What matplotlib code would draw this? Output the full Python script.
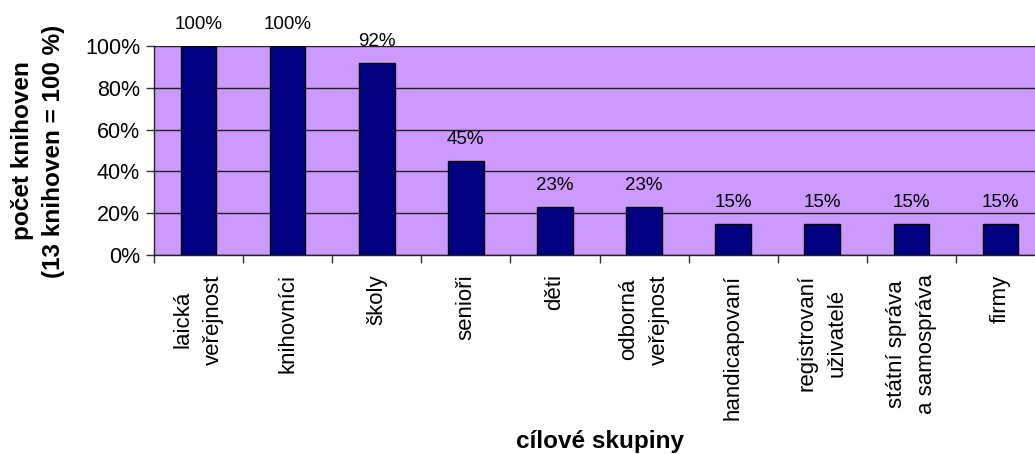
import matplotlib
matplotlib.use("Agg")
import matplotlib.pyplot as plt
from matplotlib.ticker import FixedLocator, PercentFormatter

plt.rcParams['font.family'] = ['Liberation Sans', 'DejaVu Sans']

# data
groups = ["laická\nveřejnost", "knihovníci", "školy", "senioři", "děti",
          "odborná\nveřejnost", "handicapovaní", "registrovaní\nuživatelé",
          "státní správa\na samospráva", "firmy"]
shares = [100, 100, 92, 45, 23, 23, 15, 15, 15, 15]
y_ticks = [0, 20, 40, 60, 80, 100]

fig = plt.figure(figsize=(10.35, 4.54), dpi=100)
fig.patch.set_facecolor("white")
ax = fig.add_axes([154 / 1035, 199 / 454, 891 / 1035, 209 / 454])
ax.set_facecolor("#CC99FF")

x = list(range(len(groups)))
bars = ax.bar(x, shares, width=0.4, color="#000080", edgecolor="black",
              linewidth=1, zorder=3)

for xi, v in zip(x, shares):
    ax.annotate(f"{v}%", (xi, v), xytext=(0, 9), textcoords="offset points",
                ha="center", va="bottom", fontsize=13.5, annotation_clip=False)

ax.set_xlim(-0.5, len(groups) - 0.5)
ax.set_ylim(0, 100)

# y axis
ax.set_yticks(y_ticks)
ax.yaxis.set_major_formatter(PercentFormatter(decimals=0))
ax.tick_params(axis="y", direction="out", length=6, width=1, color="#333333",
               labelsize=15.5, pad=4)
ax.grid(axis="y", color="#222222", linewidth=1, zorder=1)

# x axis: ticks at category boundaries, labels at centres
ax.xaxis.set_major_locator(FixedLocator([i - 0.5 for i in range(len(groups) + 1)]))
ax.xaxis.set_major_formatter(plt.NullFormatter())
ax.xaxis.set_minor_locator(FixedLocator(x))
ax.set_xticklabels(groups, minor=True, rotation=90, ha="center", va="top",
                   multialignment="center", fontsize=16)
for lab in ax.get_xticklabels(minor=True):
    lab.set_linespacing(1.58)
ax.tick_params(axis="x", which="major", direction="out", length=6, width=1,
               color="#333333")
ax.tick_params(axis="x", which="minor", length=0, pad=14)

for s in ["top", "right"]:
    ax.spines[s].set_visible(False)
for s in ["left", "bottom"]:
    ax.spines[s].set_color("#222222")
    ax.spines[s].set_linewidth(1)

ax.set_xlabel("cílové skupiny", fontsize=17.5, fontweight="bold")
ax.xaxis.set_label_coords((600 - 154) / 891, (255 - 430) / 209)
fig.text(38 / 1035, 1 - 151 / 454, "počet knihoven\n(13 knihoven = 100 %)",
         rotation=90, ha="center", va="center", multialignment="center",
         fontsize=17.5, fontweight="bold", linespacing=1.42)

fig.savefig("out.png", dpi=100)
